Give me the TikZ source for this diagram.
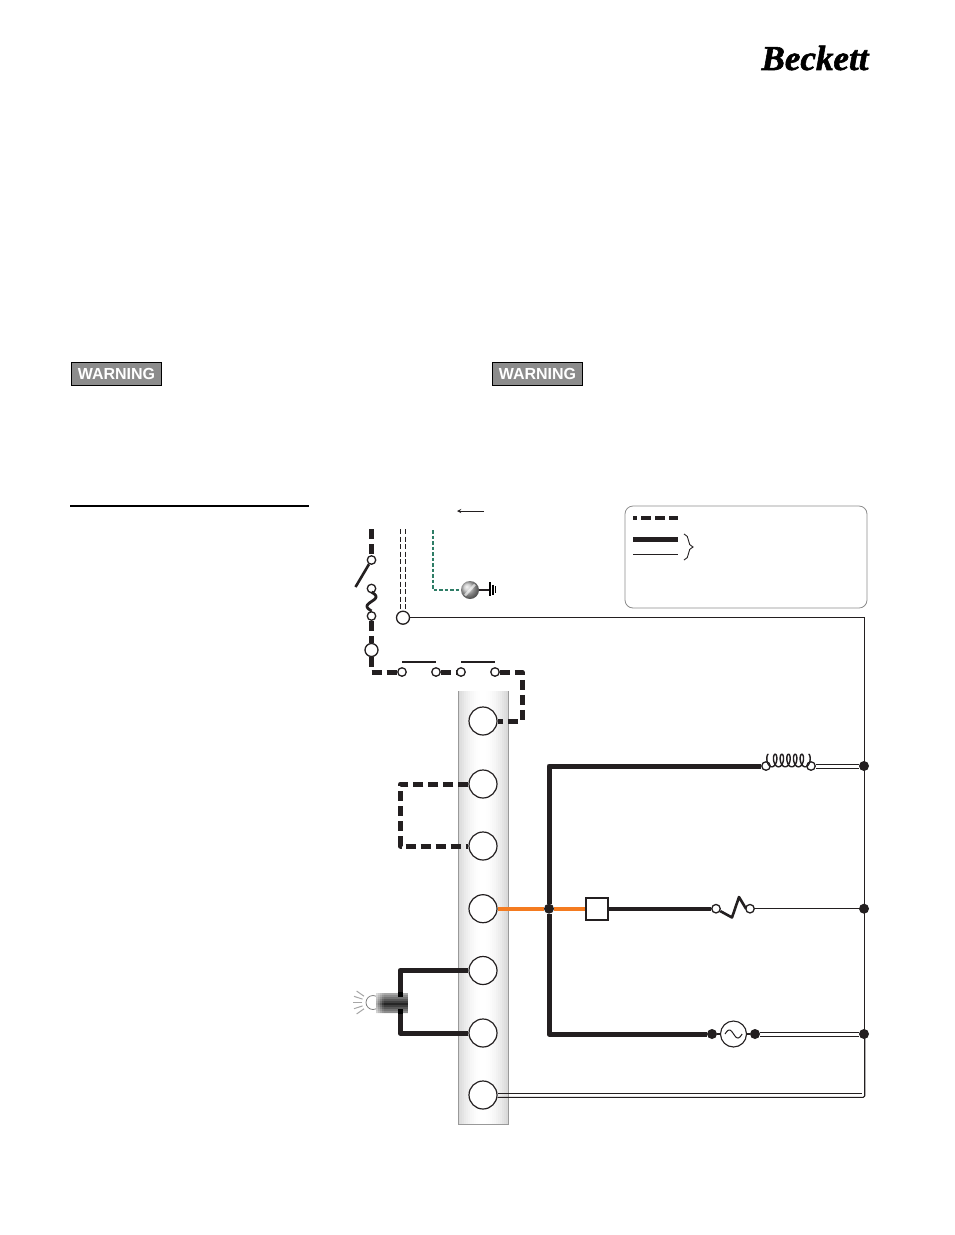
\documentclass[tikz,border=0pt]{standalone}
\usepackage{fontspec}
\setsansfont{Liberation Sans}
\newfontfamily\logofont[FakeBold=1.6]{Liberation Serif}
\usetikzlibrary{decorations.pathreplacing}
\definecolor{wirecol}{HTML}{231F20}
\definecolor{startorange}{HTML}{F47B20}
\definecolor{groundgreen}{HTML}{2E7D66}
\tikzset{
  wire/.style={line width=5pt,draw=wirecol,line join=round},
  dashwire/.style={wire,dash pattern=on 10pt off 5pt},
  thinwire/.style={line width=0.9pt,draw=wirecol},
  terminal/.style={circle,draw=wirecol,fill=white,line width=1.2pt,minimum size=28pt,inner sep=0pt},
  contact/.style={circle,draw=wirecol,fill=white,line width=1.3pt,minimum size=8.5pt,inner sep=0pt},
  post/.style={circle,draw=wirecol,fill=white,line width=1.3pt,minimum size=13pt,inner sep=0pt},
  joint/.style={circle,fill=wirecol,minimum size=10pt,inner sep=0pt},
  badge/.style={draw=black,line width=1pt,fill=black!45,text=white,font=\sffamily\bfseries\fontsize{16}{16}\selectfont,
    minimum width=90pt,minimum height=23pt,inner sep=0pt}
}
\begin{document}
\begin{tikzpicture}[x=1pt,y=-1pt]
\useasboundingbox (0,0) rectangle (954,1235);
\fill[white] (0,0) rectangle (954,1235);
% logo and page items
\node (logo) at (815,58) {\logofont\fontsize{35}{35}\selectfont\bfseries\itshape Beckett};
\node[badge] (warnleft) at (116.5,374) {WARNING};
\node[badge] (warnright) at (537.5,374) {WARNING};
\draw[line width=1.6pt] (70,506)--(309,506);
% legend
\node[draw=black!45,rounded corners=8pt,line width=0.8pt,minimum width=242pt,minimum height=102pt,inner sep=0pt] (legend) at (746,557) {};
\draw[wire,line width=3.5pt,dash pattern=on 4pt off 4pt on 10pt off 4pt on 10pt off 4pt on 10pt] (633,518)--(678,518);
\draw[wire,line width=4.4pt] (633,539.5)--(678,539.5);
\draw[thinwire] (633,554)--(678,554);
\draw[thinwire,decorate,decoration={brace,amplitude=9pt}] (684,534)--(684,560);
% terminal strip
\foreach \i in {0,...,24}{
  \pgfmathsetmacro\g{15*(2*\i/24-1)^2}
  \fill[black!\g!white] (458+2*\i,691) rectangle (508,1124);
}
\draw[black!40,line width=1pt] (458,691)--(458,1124)--(508,1124)--(508,691);
\foreach \n/\y in {t1/721,t2/784,t3/846,t4/908.7,t5/970.5,t6/1033,t7/1095}{
  \node[terminal] (\n) at (483,\y) {};
}
% switch, fuse and limit contacts
\coordinate (feedtop) at (371.5,529);
\coordinate (armend) at (355.5,587);
\node[contact] (swtop) at (371.5,560) {};
\node[contact] (fusetop) at (371.5,588.5) {};
\node[contact] (fusebot) at (371.5,616) {};
\node[post] (hotpost) at (371.5,650) {};
\node[contact] (lima) at (402,672) {};
\node[contact] (limb) at (436,672) {};
\node[contact] (limc) at (461,672) {};
\node[contact] (limd) at (495,672) {};
\coordinate (hotcorner) at (371.5,672);
\coordinate (limcorner) at (522,672);
\coordinate (limdrop) at (522,721);
\draw[dashwire] (feedtop)--(swtop);
\draw[wire,line width=2.6pt] (swtop)--(armend);
\draw[line width=2.8pt,draw=wirecol] plot[domain=0:360,samples=40] ({371.5+4.5*sin(\x)},{592+\x/18.9});
\draw[dashwire] (fusebot)--(hotpost);
\draw[dashwire] (hotpost)--(hotcorner)--(lima);
\draw[dashwire] (limb)--(limc);
\draw[dashwire] (limd)--(limcorner)--(limdrop)--(t1);
\draw[wire,line width=2.8pt] ([yshift=10pt]lima.center)--([yshift=10pt]limb.center);
\draw[wire,line width=2.8pt] ([yshift=10pt]limc.center)--([yshift=10pt]limd.center);
% neutral and ground feed
\node[post] (neutralpost) at (403,617.7) {};
\coordinate (nfeeda) at (400.6,529);
\coordinate (nfeedb) at (405.4,529);
\draw[thinwire,dash pattern=on 5pt off 2.5pt] (nfeeda)--(400.6,611);
\draw[thinwire,dash pattern=on 5pt off 2.5pt] (nfeedb)--(405.4,611);
\coordinate (leadend) at (457,511);
\coordinate (leadstart) at (484,511);
\draw[thinwire,-stealth] (leadstart)--(leadend);
\shade[ball color=black!25] (470,590) circle (9);
\draw[white,line width=2.4pt,opacity=.6] (465,595.5)--(475,584.5);
\node[circle,minimum size=18pt,inner sep=0pt] (screw) at (470,590) {};
\coordinate (greentop) at (433,530);
\coordinate (greencorner) at (433,590);
\draw[groundgreen,line width=1.5pt,dash pattern=on 3.5pt off 2pt] (greentop)--(greencorner)--(screw);
\coordinate (earth) at (490,590);
\draw[line width=1.3pt,draw=wirecol] (screw)--(earth);
\draw[line width=1.1pt] (490,582)--(490,596);
\draw[line width=1.1pt] (493,584.5)--(493,594.5);
\draw[line width=1.1pt] (495.5,586)--(495.5,593);
% jumper between terminals
\coordinate (loopmid) at (400.5,815);
\draw[dashwire] (t2)-|(loopmid)|-(t3);
% lamp
\coordinate (lamptop) at (400,997);
\coordinate (lampbot) at (400,1010);
\draw[wire] (t5)-|(lamptop);
\draw[wire] (t6)-|(lampbot);
\foreach \a in {145,162,180,198,215}{
  \draw[black!35,line width=1pt,shift={(373,1002.5)}] (\a:11)--(\a:20);
}
\draw[black!50,line width=0.8pt,fill=white] (373,1002.5) circle (7);
\foreach \i in {0,...,10}{
  \pgfmathsetmacro\g{35+50*(1-abs(\i/5-1))}
  \fill[black!\g!white] (376,993+2*\i) rectangle (408,1013);
}
\foreach \i in {0,...,3}{
  \pgfmathsetmacro\k{0.6-0.17*\i}
  \fill[white,opacity=\k] (376+2*\i,992.5) rectangle (378+2*\i,1013.5);
}
\fill[black] (397.5,992) rectangle (402.5,997);
\fill[black] (397.5,1009) rectangle (402.5,1014);
% load side
\coordinate (railtop) at (549,766);
\coordinate (railbot) at (549,1034);
\node[joint] (railjoint) at (549,908.7) {};
\node[draw=wirecol,line width=2pt,fill=white,minimum size=22pt,inner sep=0pt] (relaybox) at (597,908.7) {};
\node[contact] (coilin) at (766,766) {};
\node[contact] (coilout) at (811,766) {};
\node[contact] (heatin) at (716,908.7) {};
\node[contact] (heatout) at (750,908.7) {};
\node[joint] (motorin) at (712,1034) {};
\node[circle,draw=wirecol,fill=white,line width=1.1pt,minimum size=26pt,inner sep=0pt] (motor) at (733.5,1034) {};
\node[joint] (motorout) at (755,1034) {};
\draw[wire] (coilin)--(railtop)--(railjoint)--(railbot)--(motorin);
\draw[wire,line width=3.8pt,draw=startorange] (t4)--(railjoint);
\draw[wire,line width=3.8pt,draw=startorange] (railjoint)--(relaybox);
\draw[wire,line width=3.8pt] (relaybox)--(heatin);
\draw[thinwire,line width=1.2pt] (motorin)--(motor);
\draw[thinwire,line width=1.2pt] (motor)--(motorout);
\draw[line width=1pt,draw=wirecol] plot[domain=0:360,samples=30] ({725+\x/21},{1034-4*sin(\x)});
\draw[line width=1.4pt,draw=wirecol] plot[domain=0:2160,samples=180] ({768.5+\x/54-3.2*sin(\x)},{760.5-6.3*cos(\x)});
\draw[wire,line width=2.6pt] (heatin)--(732,917.5)--(739,897)--(746,908.7);
% common rail
\node[joint] (jcoil) at (864,766) {};
\node[joint] (jheat) at (864,908.7) {};
\node[joint] (jmotor) at (864,1034) {};
\coordinate (railcorner) at (864.8,617.7);
\coordinate (railend) at (864.8,1097.3);
\coordinate (stripend) at (862,1093.3);
\draw[thinwire] (neutralpost)--(railcorner)--(railend -| railcorner);
\draw[thinwire,rounded corners=1.5pt] (railcorner |- jmotor)--(railend)--(t7.east |- railend);
\draw[thinwire] (t7.east |- stripend)--(stripend);
\draw[thinwire] ([yshift=2pt]coilout.east)--([yshift=2pt]jcoil.west);
\draw[thinwire] ([yshift=-2pt]coilout.east)--([yshift=-2pt]jcoil.west);
\draw[thinwire] (heatout)--(jheat);
\draw[thinwire] ([yshift=2pt]motorout.east)--([yshift=2pt]jmotor.west);
\draw[thinwire] ([yshift=-2pt]motorout.east)--([yshift=-2pt]jmotor.west);
\end{tikzpicture}
\end{document}
